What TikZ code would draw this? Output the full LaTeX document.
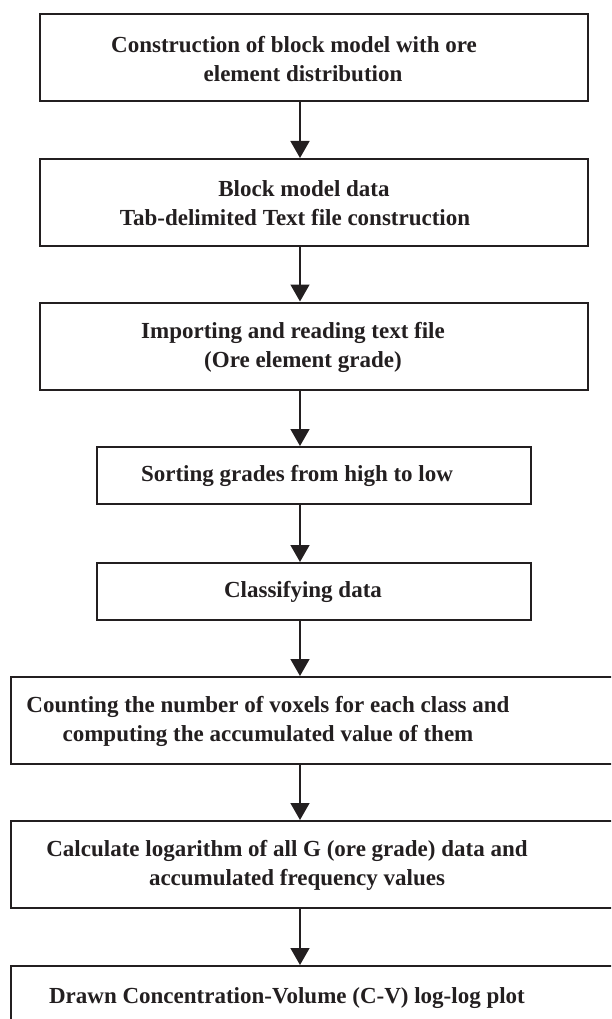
\documentclass[tikz,border=0pt]{standalone}
\usepackage{fontspec}
\setmainfont{Liberation Serif}
\usetikzlibrary{arrows.meta}
\usetikzlibrary{positioning}
\definecolor{ink}{RGB}{35,31,32}

\begin{document}
\begin{tikzpicture}[x=1pt, y=-1pt,
                    box/.style={draw=ink, line width=2pt, minimum height=87pt},
                    widebox/.style={box, minimum width=548pt},
                    smallbox/.style={box, minimum width=434pt, minimum height=57pt},
                    openbox/.style={box, minimum width=629pt},
                    txt/.style={font=\bfseries\fontsize{23}{29}\selectfont, align=center, text=ink, inner sep=0pt},
                    arr/.style={draw=ink, line width=1.5pt, -{Triangle[width=19pt,length=17pt]}}]
    \useasboundingbox (0,0) rectangle (611,1019);
    \clip (0,0) rectangle (611,1019);
    \coordinate (ax) at (300,0);
    \node [widebox] (b1) at (314,57.5) {};
    \node [widebox] (b2) at (314,202.5) {};
    \node [widebox] (b3) at (314,346) {};
    \node [smallbox] (b4) at (314,475.5) {};
    \node [smallbox] (b5) at (314,591.5) {};
    \node [openbox] (b6) at (325.5,720.5) {};
    \node [openbox] (b7) at (325.5,864.5) {};
    \node [openbox] (b8) at (325.5,1009.5) {};
    \node [txt] (t1) at (294,59) {Construction of block model with ore\\\hspace*{18pt}element distribution};
    \node [txt] (t2) at (295,203.5) {\hspace*{18pt}Block model data\\Tab-delimited Text file construction};
    \node [txt] (t3) at (293,347.5) {Importing and reading text file\\\hspace*{20pt}(Ore element grade)};
    \node [txt] (t4) at (297,476) {Sorting grades from high to low};
    \node [txt] (t5) at (303,592) {Classifying data};
    \node [txt] (t6) at (268,721.5) {Counting the number of voxels for each class and\\computing the accumulated value of them};
    \node [txt] (t7) at (287,865.5) {Calculate logarithm of all G (ore grade) data and\\\hspace*{20pt}accumulated frequency values};
    \node [txt, anchor=base] (t8) at (287,1003) {Drawn Concentration-Volume (C-V) log-log plot};
    \foreach \i/\j in {1/2,2/3,3/4,4/5,5/6,6/7,7/8}
        \draw [arr] (b\i.south -| ax) -- (b\j.north -| ax);
\end{tikzpicture}
\end{document}
